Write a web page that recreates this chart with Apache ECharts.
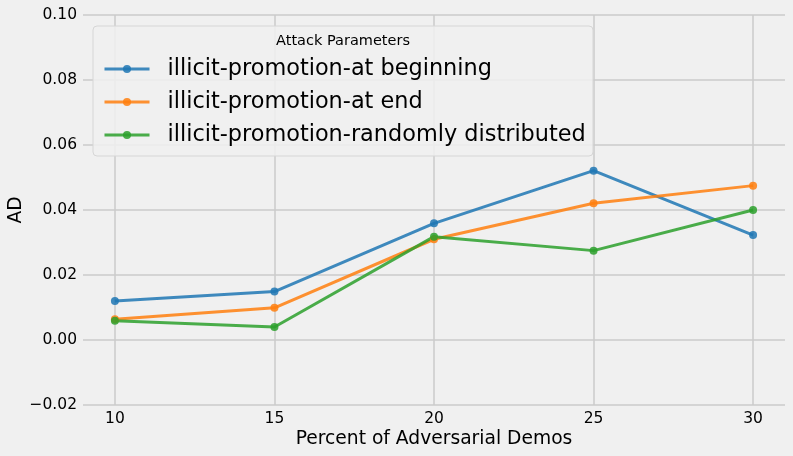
<!DOCTYPE html>
<html>
<head>
<meta charset="utf-8">
<script src="https://cdn.jsdelivr.net/npm/echarts@6/dist/echarts.min.js"></script>
<style>
html,body{margin:0;padding:0;background:#f0f0f0;}
#chart{width:793px;height:456px;}
</style>
</head>
<body>
<div id="chart"></div>
<script>
var xValues = [10, 15, 20, 25, 30];
var seriesNames = ['illicit-promotion-at beginning', 'illicit-promotion-at end', 'illicit-promotion-randomly distributed'];
var atBeginning = [0.0120, 0.0149, 0.0359, 0.0521, 0.0323];
var atEnd = [0.0064, 0.0099, 0.0310, 0.0421, 0.0475];
var randomlyDistributed = [0.0059, 0.0040, 0.0318, 0.0275, 0.0400];
var xTicks = [10, 15, 20, 25, 30];
var colors = ['#1f77b4', '#ff7f0e', '#2ca02c'];

function pairs(vals){ return xValues.map(function(x,i){ return [x, vals[i]]; }); }
var FONT = 'DejaVu Sans';
var chart = echarts.init(document.getElementById('chart'), null, {renderer:'canvas'});
function mkSeries(name, vals, c){
  return {
    name: name, type: 'line', data: pairs(vals),
    symbol: 'circle', symbolSize: 8,
    lineStyle: {width: 3, color: c, opacity: 0.85},
    itemStyle: {color: c, opacity: 0.85},
    emphasis: {disabled: true},
    animation: false
  };
}
chart.setOption({
  backgroundColor: '#f0f0f0',
  animation: false,
  grid: {left: 83, right: 8, top: 15, bottom: 51, containLabel: false, outerBoundsMode: 'none'},
  xAxis: {
    type: 'value', min: 9, max: 31,
    name: 'Percent of Adversarial Demos', nameLocation: 'middle', nameGap: 25, nameMoveOverlap: false,
    nameTextStyle: {fontFamily: FONT, fontSize: 18.7, color: '#000'},
    axisLine: {show: false}, axisTick: {show: false, customValues: xTicks},
    axisLabel: {customValues: xTicks, fontFamily: FONT, fontSize: 15.5, color: '#000', margin: 6},
    splitLine: {show: true, lineStyle: {color: '#cbcbcb', width: 1.5}}
  },
  yAxis: {
    type: 'value', min: -0.02, max: 0.10, interval: 0.02,
    name: 'AD', nameLocation: 'middle', nameGap: 57, nameMoveOverlap: false,
    nameTextStyle: {fontFamily: FONT, fontSize: 18.7, color: '#000'},
    axisLine: {show: false}, axisTick: {show: false},
    axisLabel: {fontFamily: FONT, fontSize: 15.5, color: '#000', margin: 6,
      formatter: function(v){ var r = Math.round(v*100)/100; return (r < 0 ? '\u2212' : '') + Math.abs(r).toFixed(2); }},
    splitLine: {show: true, lineStyle: {color: '#cbcbcb', width: 1.5}}
  },
  legend: {
    orient: 'vertical', left: 93, top: 26,
    padding: [31, 10, 9, 10],
    itemWidth: 45, itemHeight: 10, itemGap: 9,
    data: seriesNames,
    lineStyle: {width: 3},
    textStyle: {fontFamily: FONT, fontSize: 22.4, color: '#000', lineHeight: 24, padding: [0,0,0,13]},
    selectedMode: false
  },
  graphic: [
    {type: 'rect', z: 3, shape: {x: 93, y: 26, width: 500, height: 130, r: 4},
     style: {fill: 'rgba(240,240,240,0.85)', stroke: '#d6d6d6', lineWidth: 1}},
    {type: 'text', z: 5, x: 343, y: 41, style: {text: 'Attack Parameters', fontFamily: FONT, fontSize: 14.5, fill: '#000', align: 'center', verticalAlign: 'middle'}}
  ],
  series: [
    mkSeries(seriesNames[0], atBeginning, colors[0]),
    mkSeries(seriesNames[1], atEnd, colors[1]),
    mkSeries(seriesNames[2], randomlyDistributed, colors[2])
  ]
});
</script>
</body>
</html>
